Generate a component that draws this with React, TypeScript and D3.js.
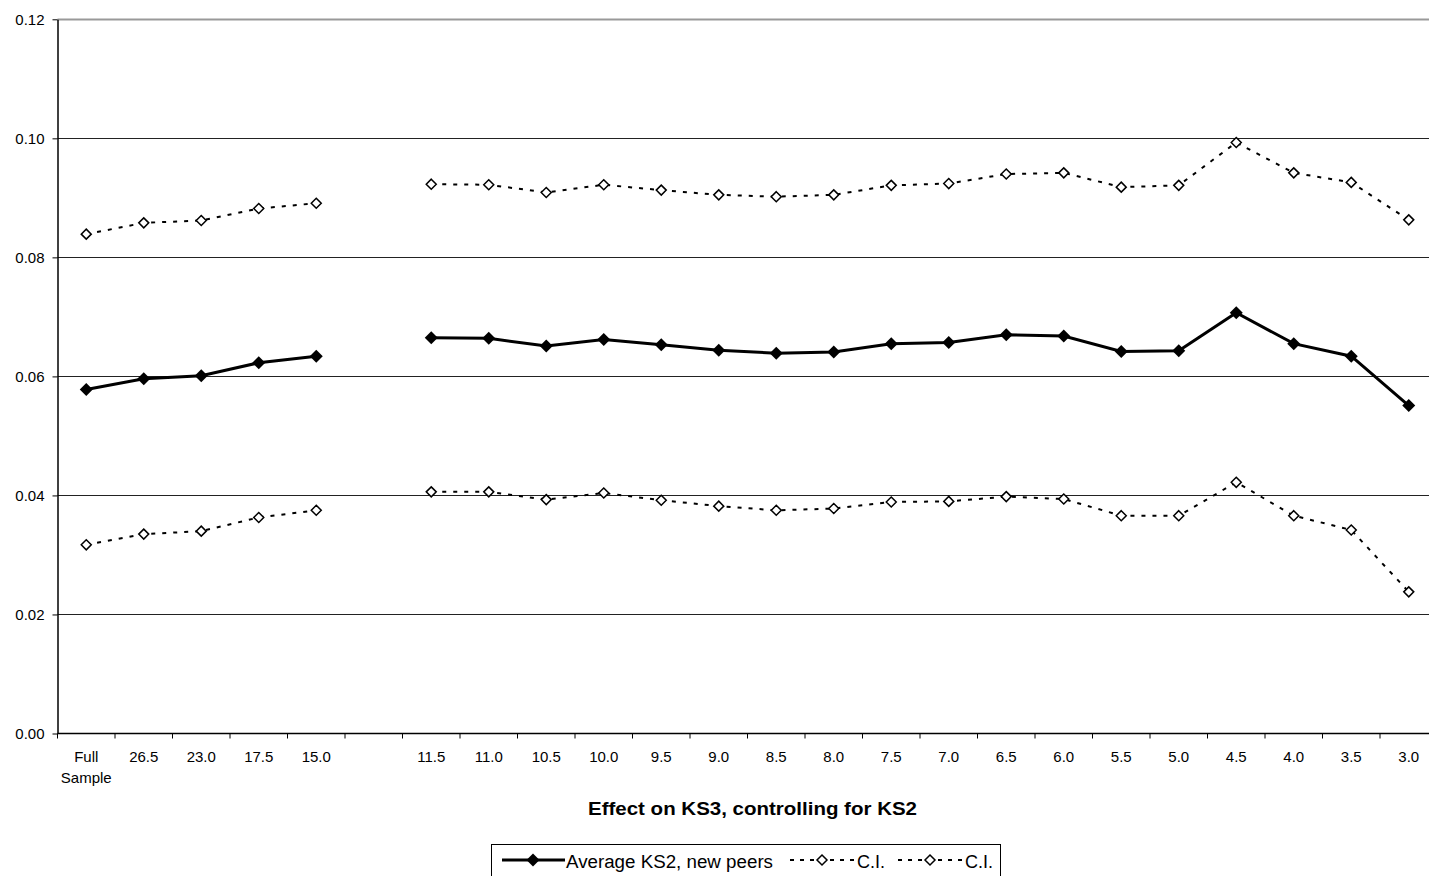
import { useEffect, useRef } from 'react';
import * as d3 from 'd3';

// category labels along the x axis ('' is the empty gap column)
const categories = [
  'Full Sample', '26.5', '23.0', '17.5', '15.0', '',
  '11.5', '11.0', '10.5', '10.0', '9.5', '9.0', '8.5', '8.0', '7.5', '7.0',
  '6.5', '6.0', '5.5', '5.0', '4.5', '4.0', '3.5', '3.0',
];

const average = [
  0.0578, 0.0596, 0.0601, 0.0623, 0.0634, null,
  0.0665, 0.0664, 0.0651, 0.0662, 0.0653, 0.0644, 0.0639, 0.0641, 0.0655, 0.0657,
  0.0670, 0.0668, 0.0642, 0.0643, 0.0707, 0.0655, 0.0634, 0.0551,
];

const upperCI = [
  0.0839, 0.0858, 0.0862, 0.0882, 0.0891, null,
  0.0923, 0.0922, 0.0909, 0.0922, 0.0913, 0.0905, 0.0902, 0.0905, 0.0921, 0.0924,
  0.0940, 0.0942, 0.0918, 0.0921, 0.0993, 0.0942, 0.0926, 0.0863,
];

const lowerCI = [
  0.0317, 0.0335, 0.0340, 0.0363, 0.0375, null,
  0.0406, 0.0406, 0.0393, 0.0404, 0.0392, 0.0382, 0.0375, 0.0378, 0.0389, 0.0390,
  0.0398, 0.0394, 0.0366, 0.0366, 0.0422, 0.0366, 0.0342, 0.0238,
];

const yTicks = [0, 0.02, 0.04, 0.06, 0.08, 0.1, 0.12];

const App = () => {
  const svgRef = useRef<SVGSVGElement>(null);

  useEffect(() => {
    const width = 1429;
    const height = 876;
    const left = 57.5;
    const right = 1437.5;
    const top = 19.3;
    const bottom = 733.5;
    const font = 'Liberation Sans, Arial, sans-serif';

    const svg = d3.select(svgRef.current)
      .attr('width', width)
      .attr('height', height)
      .style('font-family', font);
    svg.selectAll('*').remove();

    const xScale = d3.scaleBand<number>()
      .domain(categories.map((_, i) => i))
      .range([left, right])
      .padding(0);

    const yScale = d3.scaleLinear()
      .domain([0, 0.12])
      .range([bottom, top]);

    const cx = (i: number) => (xScale(i) as number) + xScale.bandwidth() / 2;

    // gridlines
    svg.append('g')
      .selectAll('line')
      .data(yTicks.filter(t => t > 0))
      .enter().append('line')
      .attr('x1', left)
      .attr('x2', right)
      .attr('y1', d => Math.round(yScale(d)) + 0.5)
      .attr('y2', d => Math.round(yScale(d)) + 0.5)
      .attr('stroke', (d) => d === 0.12 ? '#999' : '#222')
      .attr('stroke-width', d => d === 0.12 ? 2 : 1);

    // y axis
    const yAxis = svg.append('g')
      .attr('transform', `translate(${left}, 0)`)
      .call(d3.axisLeft(yScale).tickValues(yTicks).tickFormat(d3.format('.2f')).tickSize(5).tickSizeOuter(0));
    yAxis.select('.domain').attr('stroke', '#000').attr('stroke-width', 1.5);
    yAxis.selectAll('.tick line').attr('stroke', '#000');
    yAxis.selectAll('.tick text')
      .attr('font-size', 15)
      .attr('font-family', font)
      .attr('fill', '#000')
      .attr('x', -13);

    // x axis line and ticks at band edges
    svg.append('line')
      .attr('x1', left)
      .attr('x2', right)
      .attr('y1', bottom)
      .attr('y2', bottom)
      .attr('stroke', '#000')
      .attr('stroke-width', 1.5);

    svg.append('g')
      .selectAll('line')
      .data(categories.map((_, i) => i))
      .enter().append('line')
      .attr('x1', d => xScale(d) as number)
      .attr('x2', d => xScale(d) as number)
      .attr('y1', bottom)
      .attr('y2', bottom + 5)
      .attr('stroke', '#000');

    const xLabels = svg.append('g')
      .selectAll('text')
      .data(categories)
      .enter().append('text')
      .attr('x', (_, i) => cx(i))
      .attr('y', bottom + 28.5)
      .attr('text-anchor', 'middle')
      .attr('font-size', 15)
      .attr('fill', '#000');
    xLabels.each(function (d) {
      const words = d.split(' ');
      const t = d3.select(this);
      words.forEach((w, k) => {
        t.append('tspan')
          .attr('x', t.attr('x'))
          .attr('dy', k === 0 ? 0 : 21)
          .text(w);
      });
    });

    // axis title
    svg.append('text')
      .attr('x', 752.5)
      .attr('y', 815)
      .attr('text-anchor', 'middle')
      .attr('font-size', 18)
      .attr('font-weight', 'bold')
      .attr('fill', '#000')
      .attr('textLength', 329)
      .attr('lengthAdjust', 'spacingAndGlyphs')
      .text('Effect on KS3, controlling for KS2');

    const line = d3.line<number | null>()
      .defined(d => d != null)
      .x((_, i) => cx(i))
      .y(d => yScale(d as number));

    const diamond = (x: number, y: number, r: number) =>
      `M${x},${y - r}L${x + r},${y}L${x},${y + r}L${x - r},${y}Z`;

    // CI lines
    [upperCI, lowerCI].forEach(series => {
      svg.append('path')
        .attr('fill', 'none')
        .attr('stroke', '#000')
        .attr('stroke-width', 2)
        .attr('stroke-dasharray', '4,7')
        .attr('d', line(series));
      svg.append('g')
        .selectAll('path')
        .data(series.map((v, i) => ({ v, i })).filter(d => d.v != null))
        .enter().append('path')
        .attr('d', d => diamond(cx(d.i), yScale(d.v as number), 5))
        .attr('fill', '#fff')
        .attr('stroke', '#000')
        .attr('stroke-width', 1.5);
    });

    // main line
    svg.append('path')
      .attr('fill', 'none')
      .attr('stroke', '#000')
      .attr('stroke-width', 3)
      .attr('d', line(average));
    svg.append('g')
      .selectAll('path')
      .data(average.map((v, i) => ({ v, i })).filter(d => d.v != null))
      .enter().append('path')
      .attr('d', d => diamond(cx(d.i), yScale(d.v as number), 6.5))
      .attr('fill', '#000');

    // legend
    const lg = svg.append('g');
    lg.append('rect')
      .attr('x', 491.5)
      .attr('y', 844.5)
      .attr('width', 509)
      .attr('height', 40)
      .attr('fill', '#fff')
      .attr('stroke', '#000')
      .attr('stroke-width', 1);
    const ly = 860;
    lg.append('line')
      .attr('x1', 502).attr('x2', 565).attr('y1', ly).attr('y2', ly)
      .attr('stroke', '#000').attr('stroke-width', 3);
    lg.append('path').attr('d', diamond(533, ly, 6.5)).attr('fill', '#000');
    lg.append('text')
      .attr('x', 566).attr('y', ly + 8)
      .attr('font-size', 18).attr('fill', '#000')
      .attr('textLength', 207)
      .attr('lengthAdjust', 'spacingAndGlyphs')
      .text('Average KS2, new peers');
    [[790, 822, 854], [898, 930, 962]].forEach(([x1, xm, x2]) => {
      lg.append('line')
        .attr('x1', x1).attr('x2', x2).attr('y1', ly).attr('y2', ly)
        .attr('stroke', '#000').attr('stroke-width', 2)
        .attr('stroke-dasharray', '4,6');
      lg.append('path').attr('d', diamond(xm, ly, 5))
        .attr('fill', '#fff').attr('stroke', '#000').attr('stroke-width', 1.5);
      lg.append('text')
        .attr('x', x2 + 3).attr('y', ly + 8)
        .attr('font-size', 18).attr('fill', '#000')
        .text('C.I.');
    });
  }, []);

  return (
    <div style={{ position: 'absolute', left: 0, top: 0 }}>
      <svg ref={svgRef} style={{ display: 'block' }} />
    </div>
  );
};

export default App;
